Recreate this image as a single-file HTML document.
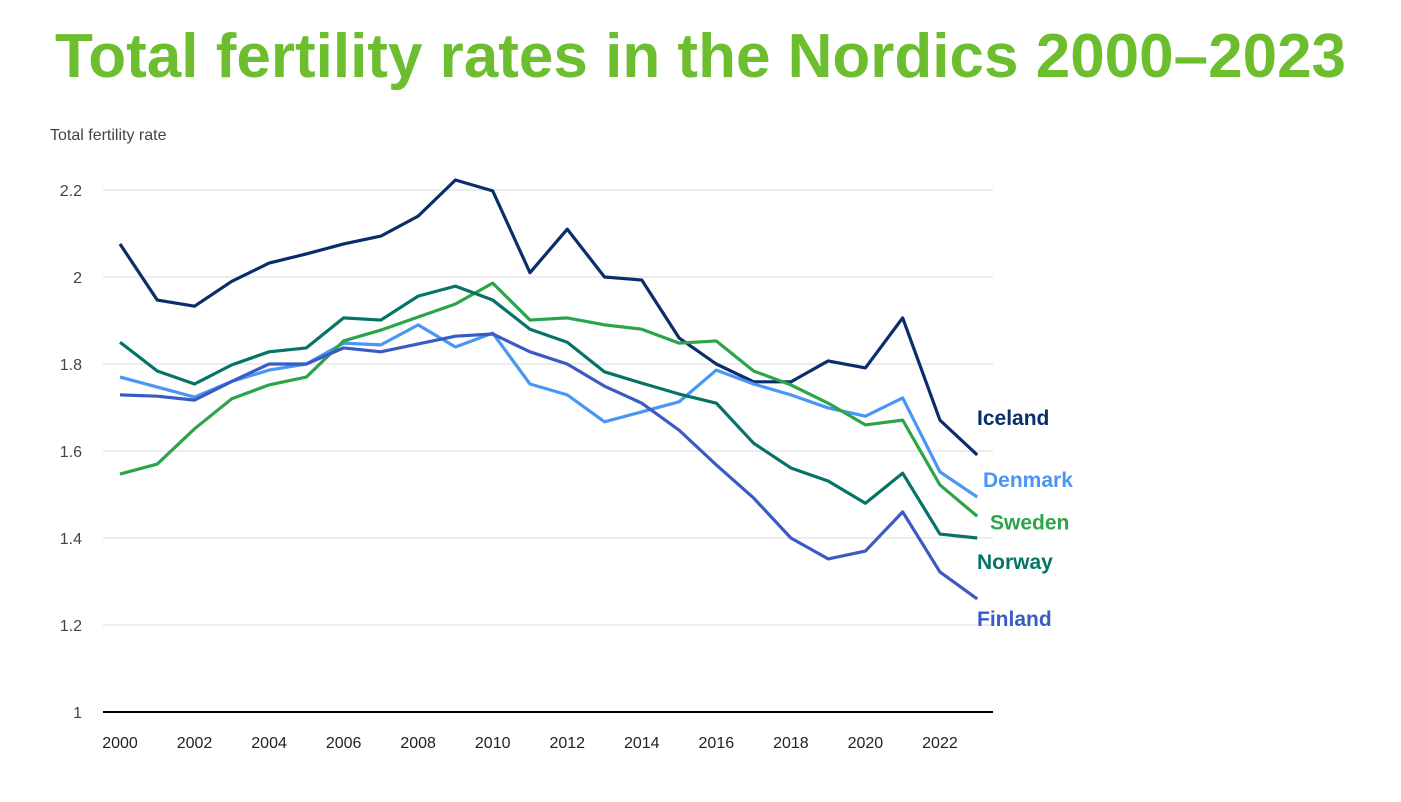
<!DOCTYPE html>
<html><head><meta charset="utf-8"><style>
body{margin:0;width:1401px;height:802px;background:#fff;overflow:hidden;font-family:"Liberation Sans",sans-serif}
#title{position:absolute;left:55px;top:21px;font-size:62px;font-weight:bold;color:#6cbe2e;letter-spacing:0px;white-space:nowrap}
</style></head><body>
<div id="title">Total fertility rates in the Nordics 2000–2023</div>
<svg id="chart" width="1401" height="802" style="position:absolute;left:0;top:0"></svg>
<script>
const years=[2000,2001,2002,2003,2004,2005,2006,2007,2008,2009,2010,2011,2012,2013,2014,2015,2016,2017,2018,2019,2020,2021,2022,2023];
const iceland=[2.076,1.947,1.933,1.99,2.032,2.053,2.076,2.094,2.14,2.223,2.198,2.01,2.11,2.0,1.993,1.86,1.8,1.759,1.759,1.807,1.791,1.906,1.671,1.591];
const denmark=[1.77,1.747,1.724,1.76,1.786,1.80,1.848,1.844,1.89,1.839,1.871,1.754,1.729,1.667,1.69,1.713,1.786,1.754,1.729,1.699,1.68,1.722,1.552,1.494];
const sweden=[1.547,1.57,1.651,1.72,1.752,1.77,1.853,1.878,1.908,1.938,1.986,1.901,1.906,1.89,1.88,1.848,1.853,1.784,1.752,1.71,1.66,1.671,1.522,1.45];
const norway=[1.85,1.784,1.754,1.798,1.828,1.837,1.906,1.901,1.956,1.979,1.947,1.88,1.85,1.782,1.756,1.731,1.71,1.618,1.561,1.531,1.48,1.549,1.409,1.40];
const finland=[1.729,1.726,1.717,1.76,1.80,1.80,1.837,1.828,1.846,1.864,1.869,1.828,1.80,1.749,1.71,1.648,1.568,1.492,1.40,1.352,1.37,1.46,1.322,1.26];
const yTicks=[1,1.2,1.4,1.6,1.8,2,2.2];
const yTickLabels=["1","1.2","1.4","1.6","1.8","2","2.2"];
const xTicks=[2000,2002,2004,2006,2008,2010,2012,2014,2016,2018,2020,2022];
const ns="http://www.w3.org/2000/svg",svg=document.getElementById('chart');
const X=v=>120+(v-2000)*37.27, Y=v=>712-(v-1)*435;
function mk(t,a,txt){const e=document.createElementNS(ns,t);for(const k in a)e.setAttribute(k,a[k]);if(txt!==undefined)e.textContent=txt;svg.appendChild(e);return e;}
let e=mk('text',{x:50,y:140,'font-size':16,fill:'#444'},'Total fertility rate');


yTicks.forEach((t,i)=>{
 if(t>1){const g=mk('line',{x1:103,x2:993,y1:Y(t),y2:Y(t),stroke:'#d9d9d9','stroke-width':1});
 
 }
 const l=mk('text',{x:82,y:Y(t)+6,'font-size':16,fill:'#444','text-anchor':'end'},yTickLabels[i]);
 
 
});
e=mk('line',{x1:103,x2:993,y1:Y(1),y2:Y(1),stroke:'#000','stroke-width':2});


xTicks.forEach(t=>{const l=mk('text',{x:X(t),y:748,'font-size':16,fill:'#222','text-anchor':'middle'},String(t));
 
 });
const series=[["Iceland",iceland,"#0a2d6b",-10],["Denmark",denmark,"#4a96f5",-10],["Sweden",sweden,"#2ca54a",13],["Norway",norway,"#057466",31],["Finland",finland,"#3a5bc4",27]];
series.forEach(([n,d,c,dy])=>{
 const p=mk('polyline',{points:d.map((v,i)=>X(years[i])+','+Y(v)).join(' '),fill:'none',stroke:c,'stroke-width':3.2,'stroke-linejoin':'round'});
 
 
 const last=d[d.length-1];
 const lx=n==="Denmark"?983:(n==="Sweden"?990:977);
 const t=mk('text',{x:lx,y:Y(last)+dy+(n==="Iceland"?-20:0),'font-size':21,'font-weight':'bold',fill:c},n);
 
 
});
</script>
</body></html>
